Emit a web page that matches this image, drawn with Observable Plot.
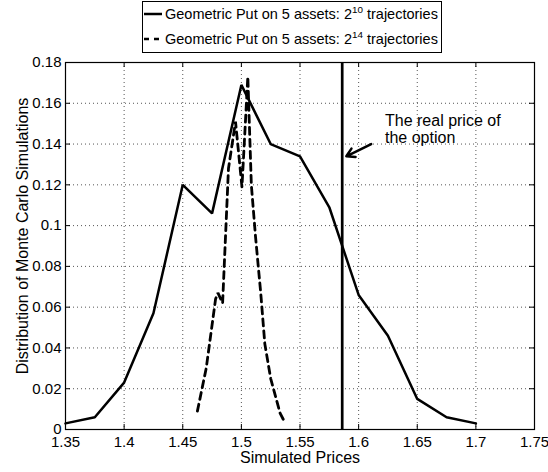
<!DOCTYPE html>
<html>
<head>
<meta charset="utf-8">
<script src="https://cdn.jsdelivr.net/npm/d3@7"></script>
<script src="https://cdn.jsdelivr.net/npm/@observablehq/plot@0.6"></script>
<style>
  html, body { margin: 0; padding: 0; background: #fff; }
  body { width: 548px; height: 472px; overflow: hidden; font-family: "Liberation Sans", Arial, Helvetica, sans-serif; }
  #legend { position: relative; width: 548px; height: 53px; }
  #legend .box { position: absolute; left: 142px; top: 1px; width: 298px; height: 50px; border: 1px solid #000; background: #fff; font-size: 14.5px; color: #000; }
  #legend .row { position: absolute; left: 0; height: 22px; display: flex; align-items: center; white-space: nowrap; }
  #legend .row svg { display: block; margin-right: 1px; }
  #legend sup { font-size: 68%; line-height: 0; vertical-align: 0.6em; }
  #chart svg { display: block; }
</style>
</head>
<body>
<div id="legend"></div>
<div id="chart"></div>
<script>
// ---- data ----
const solidX = [1.35, 1.375, 1.4, 1.425, 1.45, 1.475, 1.5, 1.525, 1.55, 1.575, 1.6, 1.625, 1.65, 1.675, 1.7];
const solidY = [0.003, 0.006, 0.023, 0.057, 0.120, 0.106, 0.169, 0.140, 0.134, 0.109, 0.066, 0.046, 0.015, 0.006, 0.003];

const dashedX = [1.4625, 1.4700, 1.4780, 1.4800, 1.4840, 1.4890, 1.4950, 1.5005, 1.5055, 1.5085, 1.5120, 1.5165, 1.5200, 1.5250, 1.5330, 1.5375];
const dashedY = [0.009, 0.030, 0.064, 0.067, 0.062, 0.128, 0.151, 0.119, 0.173, 0.120, 0.095, 0.067, 0.042, 0.025, 0.008, 0.003];

const realPrice = 1.586;

const xTicks = [1.35, 1.4, 1.45, 1.5, 1.55, 1.6, 1.65, 1.7, 1.75];
const xTickLabels = ["1.35", "1.4", "1.45", "1.5", "1.55", "1.6", "1.65", "1.7", "1.75"];
const yTicks = [0, 0.02, 0.04, 0.06, 0.08, 0.1, 0.12, 0.14, 0.16, 0.18];
const yTickLabels = ["0", "0.02", "0.04", "0.06", "0.08", "0.1", "0.12", "0.14", "0.16", "0.18"];

const seriesNames = ["Geometric Put on 5 assets: 2", "Geometric Put on 5 assets: 2"];
const seriesExponents = ["10", "14"];
const seriesSuffix = " trajectories";

const xLabel = "Simulated Prices";
const yLabel = "Distribution of Monte Carlo Simulations";
const annotationText = "The real price of\nthe option";
const annotationPos = [1.6225, 0.1475];
const arrowFrom = [1.6107, 0.140];
const arrowTo = [1.5895, 0.134];

// ---- tables ----
const solid = solidX.map((x, i) => ({x, y: solidY[i]}));
const dashed = dashedX.map((x, i) => ({x, y: dashedY[i]}));
const xLab = new Map(xTicks.map((t, i) => [t, xTickLabels[i]]));
const yLab = new Map(yTicks.map((t, i) => [t, yTickLabels[i]]));

// ---- legend (HTML) ----
const box = document.createElement("div");
box.className = "box";
const dashes = [null, "5,5"];
[1, 26].forEach((top, i) => {
  const row = document.createElement("div");
  row.className = "row";
  row.style.top = top + "px";
  row.innerHTML =
    `<svg width="21" height="6"><line x1="1" x2="19" y1="3" y2="3" stroke="#000" stroke-width="2.5"${dashes[i] ? ` stroke-dasharray="${dashes[i]}"` : ""}/></svg>` +
    `<span>${seriesNames[i]}<sup>${seriesExponents[i]}</sup>${seriesSuffix}</span>`;
  box.appendChild(row);
});
document.getElementById("legend").appendChild(box);

// ---- chart ----
const xDom = [1.35, 1.75], yDom = [0, 0.18];
const W = 548, H = 419, mT = 9, mB = 43, mL = 65, mR = 14;
const tickLenX = 5 * (yDom[1] - yDom[0]) / (H - mT - mB);
const tickLenY = 5 * (xDom[1] - xDom[0]) / (W - mL - mR);
const font = "'Liberation Sans', Arial, Helvetica, sans-serif";

const chart = Plot.plot({
  width: W, height: H,
  marginTop: mT, marginBottom: mB, marginLeft: mL, marginRight: mR,
  style: {fontFamily: font, fontSize: "15px", color: "#000", background: "#fff"},
  x: {domain: xDom, ticks: xTicks, tickFormat: d => xLab.get(d), tickSize: 0, tickPadding: 7, label: null},
  y: {domain: yDom, ticks: yTicks, tickFormat: d => yLab.get(d), tickSize: 0, tickPadding: 4, label: null},
  marks: [
    // dotted grid
    Plot.ruleX(xTicks.slice(1, -1), {stroke: "#555", strokeWidth: 1, strokeDasharray: "1,3"}),
    Plot.ruleY(yTicks.slice(1, -1), {stroke: "#555", strokeWidth: 1, strokeDasharray: "1,3"}),
    // inward ticks
    Plot.ruleX(xTicks, {y1: yDom[0], y2: yDom[0] + tickLenX, stroke: "#000"}),
    Plot.ruleX(xTicks, {y1: yDom[1] - tickLenX, y2: yDom[1], stroke: "#000"}),
    Plot.ruleY(yTicks, {x1: xDom[0], x2: xDom[0] + tickLenY, stroke: "#000"}),
    Plot.ruleY(yTicks, {x1: xDom[1] - tickLenY, x2: xDom[1], stroke: "#000"}),
    // series
    Plot.line(solid, {x: "x", y: "y", stroke: "#000", strokeWidth: 2.5, strokeLinejoin: "miter"}),
    Plot.line(dashed, {x: "x", y: "y", stroke: "#000", strokeWidth: 2.8, strokeDasharray: "7,5", strokeLinejoin: "miter"}),
    // real price
    Plot.ruleX([realPrice], {stroke: "#000", strokeWidth: 2.7}),
    Plot.arrow([0], {x1: () => arrowFrom[0], y1: () => arrowFrom[1], x2: () => arrowTo[0], y2: () => arrowTo[1], stroke: "#000", strokeWidth: 2.5, headLength: 9}),
    Plot.text([annotationText], {x: () => annotationPos[0], y: () => annotationPos[1], textAnchor: "start", lineAnchor: "middle", lineHeight: 1.1, fontSize: 16, fill: "#000"}),
    // axis labels
    Plot.text([xLabel], {frameAnchor: "bottom", dy: 33, fontSize: 16, fill: "#000"}),
    Plot.text([yLabel], {frameAnchor: "left", textAnchor: "middle", dx: -43, dy: -10, rotate: -90, fontSize: 16, fill: "#000"}),
    Plot.frame({stroke: "#000", strokeWidth: 1.2})
  ]
});
document.getElementById("chart").appendChild(chart);
</script>
</body>
</html>
